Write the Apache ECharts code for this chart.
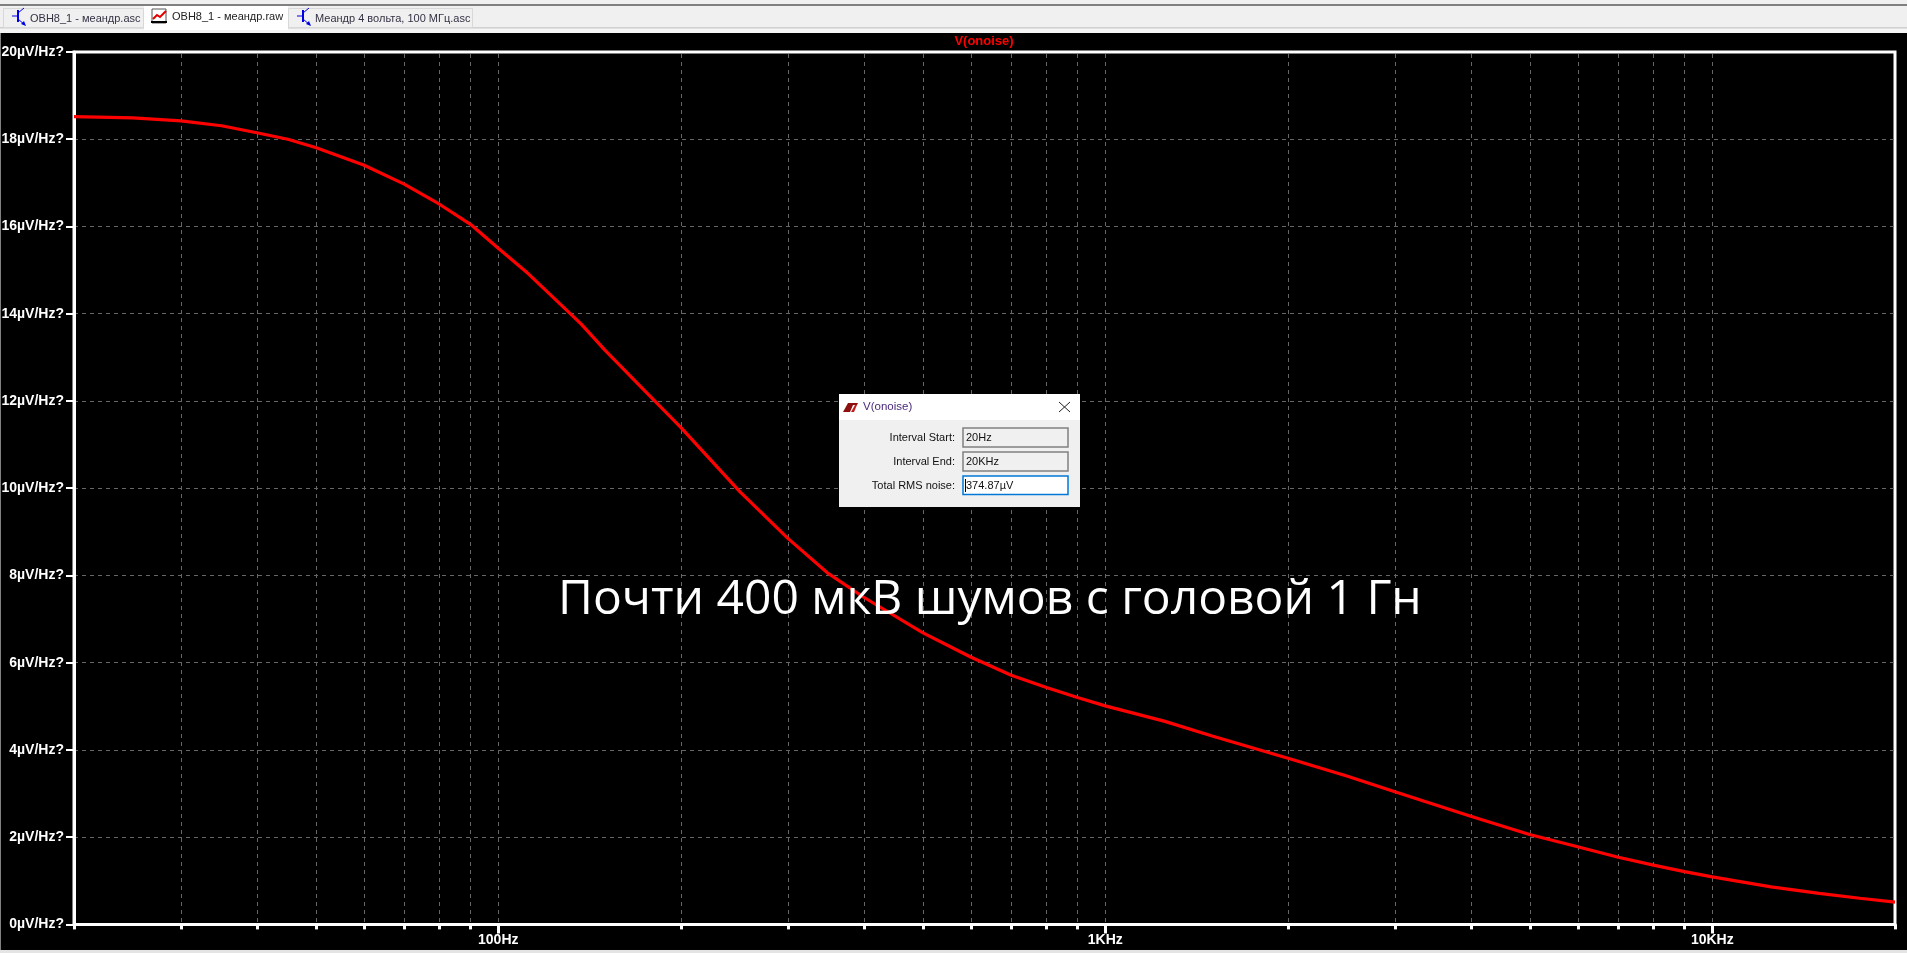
<!DOCTYPE html>
<html><head><meta charset="utf-8">
<style>html,body{margin:0;padding:0;background:#000;overflow:hidden}#c{width:1907px;height:953px}</style>
<script src="https://cdn.jsdelivr.net/npm/echarts@6/dist/echarts.min.js"></script>
</head><body><div id="c"></div>
<script>
const frequencies = [20,25,30,35,40,45,50,60,70,80,90,100,112,125,137,150,175,200,250,300,350,400,500,600,700,800,900,1000,1250,1500,2000,2500,3000,4000,5000,6000,7000,8000,9000,10000,12500,15000,17500,20000];
const noiseValues = [18.52,18.49,18.42,18.31,18.15,18.0,17.81,17.41,16.97,16.51,16.05,15.5,14.92,14.29,13.76,13.16,12.21,11.39,9.92,8.85,8.04,7.5,6.69,6.13,5.71,5.43,5.2,5.01,4.66,4.32,3.81,3.4,3.04,2.48,2.06,1.78,1.54,1.36,1.21,1.09,0.86,0.71,0.6,0.51];
const gridFrequencies = [30,40,50,60,70,80,90,100,200,300,400,500,600,700,800,900,1000,2000,3000,4000,5000,6000,7000,8000,9000,10000];
const minorTickFrequencies = [20,30,40,50,60,70,80,90,200,300,400,500,600,700,800,900,2000,3000,4000,5000,6000,7000,8000,9000,20000];
const xTickValues = [100,1000,10000];
const xTickLabels = ['100Hz','1KHz','10KHz'];
const yTickLabels = ['0µV/Hz?','2µV/Hz?','4µV/Hz?','6µV/Hz?','8µV/Hz?','10µV/Hz?','12µV/Hz?','14µV/Hz?','16µV/Hz?','18µV/Hz?','20µV/Hz?'];
const seriesName = 'V(onoise)';
const tabNames = ['OBH8_1 - меандр.asc','OBH8_1 - меандр.raw','Меандр 4 вольта, 100 МГц.asc'];
const annotation = 'Почти 400 мкВ шумов с головой 1 Гн';
const dialogLabels = ['Interval Start:','Interval End:','Total RMS noise:'];
const dialogValues = ['20Hz','20KHz','374.87µV'];

const UI = '"Liberation Sans", sans-serif';
const rect = (x,y,w,h,fill,stroke,lw) => ({type:'rect',z:100,shape:{x,y,width:w,height:h},style:{fill,stroke:stroke||null,lineWidth:lw||0}});
const text = (x,y,t,font,fill,align,extra) => Object.assign({type:'text',z:110,x,y,style:{text:t,font,fill,align:align||'left',verticalAlign:'middle'}},extra||{});
const line = (x1,y1,x2,y2,stroke,lw) => ({type:'line',z:110,shape:{x1,y1,x2,y2},style:{stroke,lineWidth:lw||1}});
const poly = (points,fill) => ({type:'polygon',z:110,shape:{points},style:{fill}});
function transistor(x){return [line(x+8,10,x+8,22,'#0000e0',2),line(x+2,16,x+8,16,'#0000e0',1),line(x+8,13,x+14,8,'#0000e0',1),line(x+8,19,x+15,25,'#0000e0',1),poly([[x+16,26],[x+11,24],[x+14,21]],'#0000e0')];}
const chrome = [
  rect(0,0,1907,33,'#f0f0f0'), rect(0,4,1907,2,'#808080'), rect(0,27,1907,1.5,'#d0d0d0'), rect(0,29,1907,4,'#f5f5f5'),
  rect(0,33,1,917,'#808080'), rect(0,950,1907,3,'#e4e4e4'),
  rect(3.5,8.5,140,19,'#f0f0f0','#d8d8d8',1), rect(288.5,8.5,184,19,'#f0f0f0','#d8d8d8',1), rect(144,6,144,24,'#ffffff'),
  ...transistor(10), ...transistor(295),
  rect(152,9,14,14,'#ffffff','#555',1), {type:'polyline',z:111,shape:{points:[[153,19],[157,15],[160,17],[166,11]]},style:{stroke:'#e00000',lineWidth:2,fill:null}},
  rect(151,21,16,2,'#000'),
  text(30,19,tabNames[0],'11px '+UI,'#334','left'), text(172,17,tabNames[1],'11px '+UI,'#222','left'), text(315,19,tabNames[2],'11px '+UI,'#334','left')
];
const dialog = [
  rect(839,394,241,113,'#f0f0f0'), rect(839,394,241,26,'#ffffff'),
  poly([[843,412],[848,403],[858,403],[857,405],[853,405],[850,412]],'#8c1010'), poly([[851,412],[855,405],[857,405],[854,412]],'#c02020'),
  text(863,407,seriesName,'11.5px '+UI,'#4a2a7a'),
  line(1059,402,1070,412,'#222',1), line(1070,402,1059,412,'#222',1),
  text(955,438,dialogLabels[0],'11px '+UI,'#111','right'), text(955,462,dialogLabels[1],'11px '+UI,'#111','right'), text(955,486,dialogLabels[2],'11px '+UI,'#111','right'),
  rect(963,428,105,19,'#f0f0f0','#808080',1.5), rect(963,452,105,19,'#f0f0f0','#808080',1.5), rect(963,476,105,18.5,'#ffffff','#0078d7',1.5),
  text(966,437.5,dialogValues[0],'11px '+UI,'#111'), text(966,461.5,dialogValues[1],'11px '+UI,'#111'), text(966,485.5,dialogValues[2],'11px '+UI,'#111'),
  rect(965,479,1,13,'#000')
];
const overlays = [
  text(558,600,annotation,'48px "Open Sans", sans-serif','#ffffff','left'),
  text(984,41.5,seriesName,'bold 13px '+UI,'#ff0000','center')
];

const chart = echarts.init(document.getElementById('c'),null,{renderer:'canvas'});
chart.setOption({
  animation:false,
  backgroundColor:'#000',
  grid:{left:74,top:52,width:1821,height:872.4,show:true,borderColor:'#fff',borderWidth:3,backgroundColor:'transparent',containLabel:false,outerBoundsMode:'none'},
  xAxis:{type:'log',logBase:10,min:20,max:20000,
    axisLine:{show:true,lineStyle:{color:'#fff',width:3}},
    axisTick:{show:true,length:9,customValues:xTickValues,lineStyle:{color:'#fff',width:3}},
    axisLabel:{show:true,customValues:xTickValues,margin:9,color:'#fff',fontFamily:'Liberation Sans',fontWeight:'bold',fontSize:14,
      formatter:v=>xTickLabels[xTickValues.findIndex(t=>Math.abs(t-v)<1e-6*t)]||''},
    splitLine:{show:false},minorTick:{show:false},minorSplitLine:{show:false}},
  yAxis:{type:'value',min:0,max:20,interval:2,
    axisLine:{show:true,lineStyle:{color:'#fff',width:3}},
    axisTick:{show:true,length:8,lineStyle:{color:'#fff',width:2}},
    axisLabel:{margin:10,color:'#fff',fontFamily:'Liberation Sans',fontWeight:'bold',fontSize:14,
      formatter:v=>yTickLabels[Math.round(v/2)]},
    splitLine:{show:true,showMinLine:false,showMaxLine:false,lineStyle:{color:'#666666',width:1,type:[4,4]}}},
  graphic:{elements:[...chrome,...dialog,...overlays]},
  series:[
    {type:'custom',name:'grid',silent:true,clip:false,z:1,coordinateSystem:'cartesian2d',
      data:gridFrequencies.map(f=>[f]),encode:{x:0},
      renderItem:(p,api)=>{const x=Math.round(api.coord([api.value(0),0])[0])+0.5,b=api.coord([api.value(0),0])[1],t=api.coord([api.value(0),20])[1];
        return {type:'line',shape:{x1:x,y1:t+2,x2:x,y2:b-2},style:{stroke:'#666666',lineWidth:1,lineDash:[4,4]}};}},
    {type:'custom',name:'ticks',silent:true,clip:false,z:3,coordinateSystem:'cartesian2d',
      data:minorTickFrequencies.map(f=>[f]),encode:{x:0},
      renderItem:(p,api)=>{const c=api.coord([api.value(0),0]);
        return {type:'rect',shape:{x:Math.round(c[0])-1,y:c[1],width:3,height:5},style:{fill:'#fff'}};}},
    {type:'line',name:seriesName,z:5,data:frequencies.map((f,i)=>[f,noiseValues[i]]),showSymbol:false,symbol:'none',smooth:false,
      lineStyle:{color:'#ff0000',width:3.2},clip:false}
  ]
});
</script></body></html>
